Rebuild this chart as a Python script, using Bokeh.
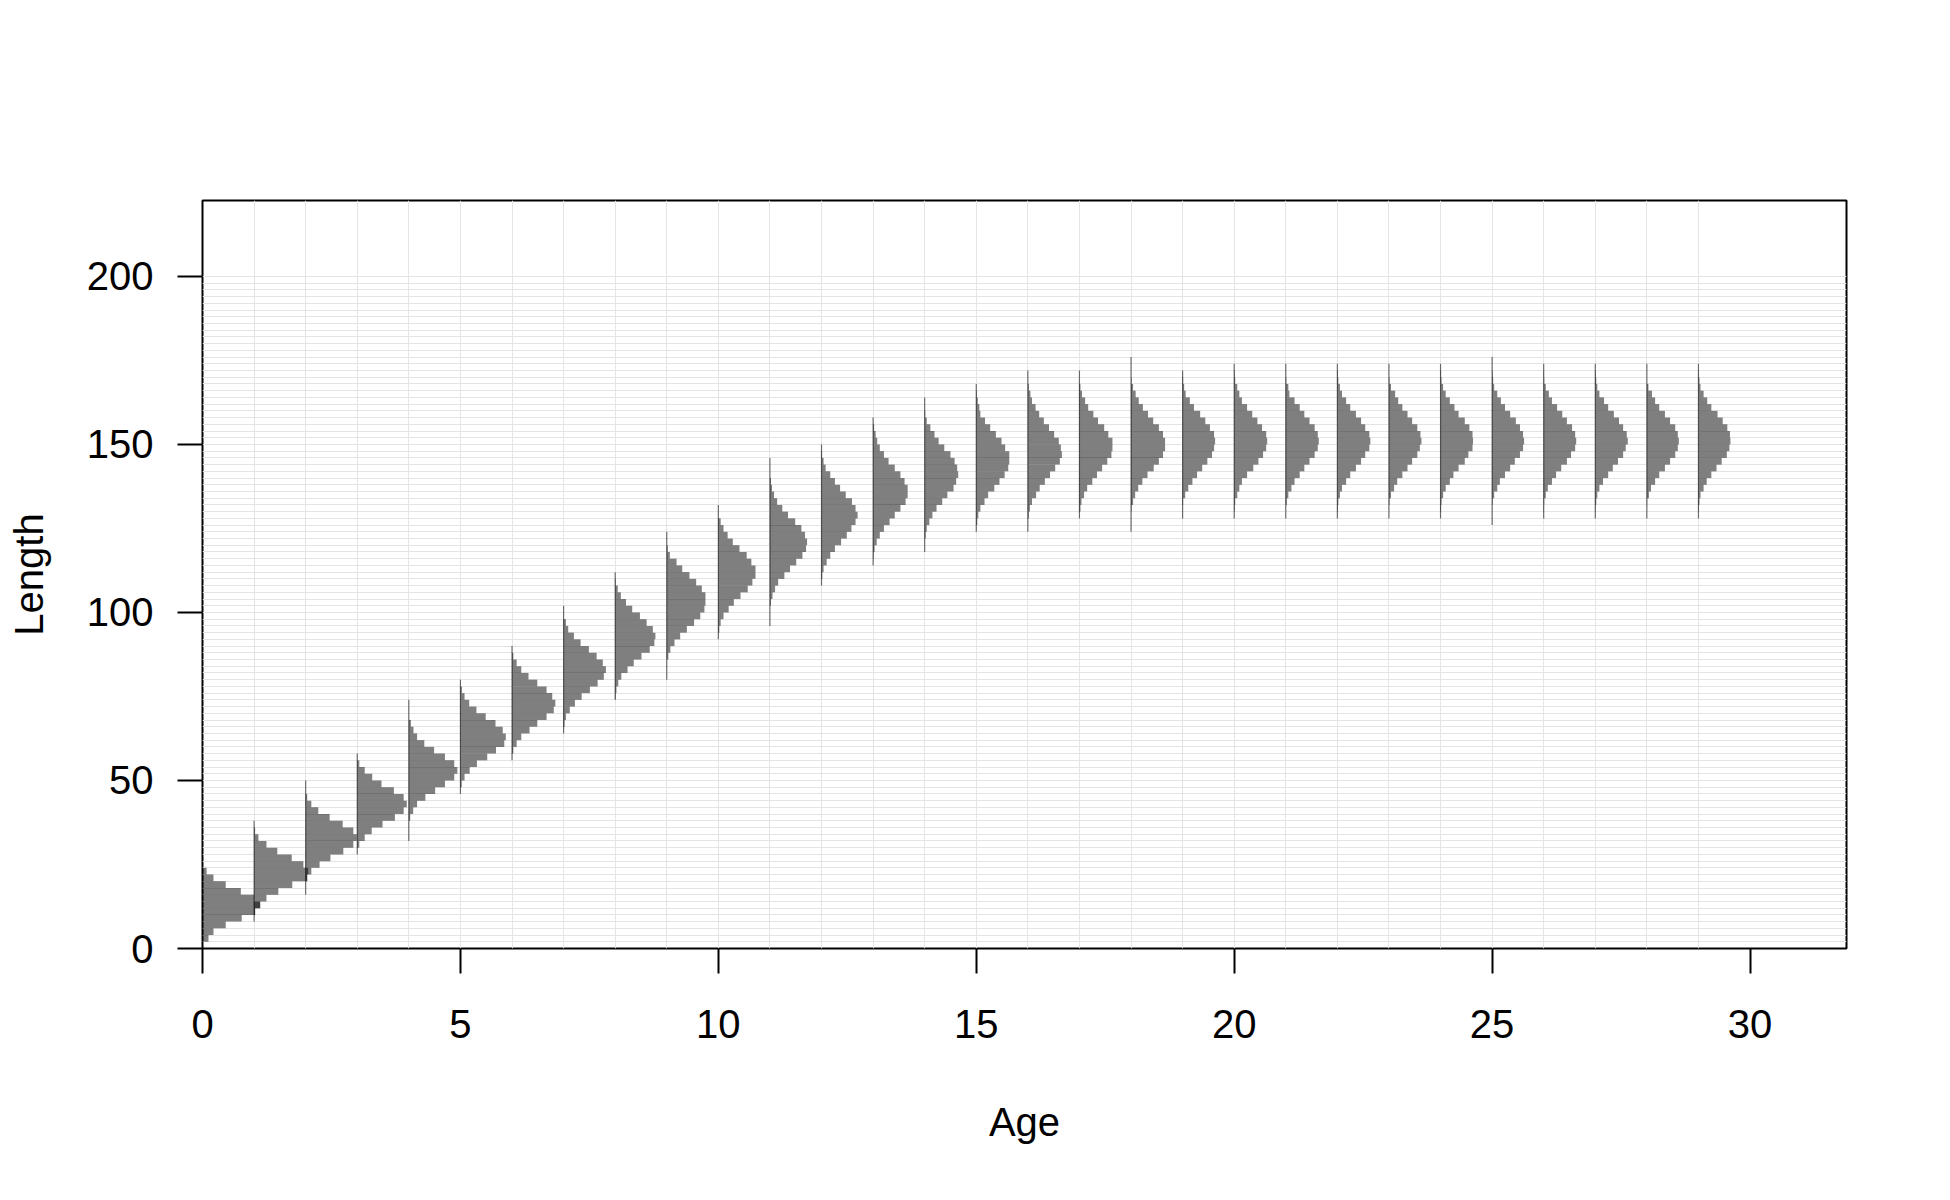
from bokeh.plotting import figure
from bokeh.models import ColumnDataSource, Range1d, FixedTicker
from bokeh.embed import file_html
from bokeh.resources import INLINE

# ---------------- data ----------------
bin_width = 2
ages = list(range(30))
# lower length bound of the lowest drawn bin for each age
start_length = [2, 8, 16, 28, 32, 46, 56, 64, 74, 80,
                92, 96, 108, 114, 118, 124, 124, 128, 124, 128,
                128, 128, 128, 128, 128, 126, 128, 128, 128, 128]

# bar widths (scaled frequency, in age units), from the lowest bin upward
age_0 = [0.116, 0.213, 0.45, 0.76, 1.02, 1.12, 1.0, 0.743, 0.45, 0.213, 0.08]
age_1 = [0, 0.02, 0.116, 0.24, 0.47, 0.74, 1.03, 1.05, 0.956, 0.73, 0.45, 0.24, 0.084, 0.02, 0]
age_2 = [0, 0, 0.03, 0.11, 0.27, 0.48, 0.73, 0.924, 0.99, 0.924, 0.717, 0.465, 0.245, 0.11, 0.03, 0, 0]
age_3 = [0, 0.04, 0.145, 0.28, 0.49, 0.73, 0.9, 0.96, 0.9, 0.71, 0.47, 0.29, 0.145, 0.04, 0]
age_4 = [0, 0, 0, 0.026, 0.084, 0.16, 0.32, 0.51, 0.70, 0.88, 0.94, 0.88, 0.70, 0.49, 0.3, 0.16, 0.09, 0.04, 0, 0, 0]
age_5 = [0, 0.026, 0.08, 0.18, 0.32, 0.52, 0.69, 0.85, 0.88, 0.82, 0.68, 0.49, 0.31, 0.17, 0.08, 0.03, 0]
age_6 = [0, 0.026, 0.09, 0.18, 0.34, 0.49, 0.67, 0.81, 0.84, 0.78, 0.67, 0.49, 0.32, 0.18, 0.09, 0.026, 0]
age_7 = [0, 0.02, 0.045, 0.12, 0.22, 0.35, 0.51, 0.66, 0.78, 0.82, 0.76, 0.64, 0.49, 0.33, 0.2, 0.09, 0.045, 0, 0]
age_8 = [0.01, 0.025, 0.06, 0.12, 0.24, 0.36, 0.51, 0.67, 0.76, 0.78, 0.73, 0.61, 0.48, 0.33, 0.21, 0.11, 0.05, 0.01, 0]
age_9 = [0, 0, 0, 0.03, 0.07, 0.15, 0.26, 0.39, 0.53, 0.65, 0.73, 0.75, 0.75, 0.68, 0.57, 0.44, 0.3, 0.19, 0.06, 0.02, 0, 0]
age_10 = [0, 0.02, 0.045, 0.1, 0.2, 0.3, 0.43, 0.57, 0.66, 0.72, 0.72, 0.64, 0.55, 0.41, 0.28, 0.18, 0.1, 0.045, 0, 0]
age_11 = [0, 0, 0, 0.02, 0.05, 0.1, 0.16, 0.28, 0.39, 0.51, 0.63, 0.7, 0.72, 0.68, 0.61, 0.49, 0.35, 0.24, 0.14, 0.08, 0.04, 0.02, 0, 0, 0]
age_12 = [0, 0.015, 0.04, 0.1, 0.17, 0.26, 0.38, 0.49, 0.58, 0.66, 0.7, 0.66, 0.59, 0.47, 0.36, 0.26, 0.17, 0.08, 0.04, 0.01, 0]
age_13 = [0, 0.01, 0.03, 0.07, 0.13, 0.21, 0.32, 0.42, 0.53, 0.63, 0.67, 0.67, 0.61, 0.53, 0.42, 0.3, 0.21, 0.13, 0.08, 0.05, 0.02, 0]
age_14 = [0, 0, 0.02, 0.04, 0.09, 0.15, 0.23, 0.34, 0.44, 0.56, 0.61, 0.65, 0.63, 0.58, 0.5, 0.38, 0.27, 0.19, 0.11, 0.04, 0.01, 0, 0]
age_15 = [0, 0.02, 0.04, 0.08, 0.16, 0.23, 0.35, 0.45, 0.55, 0.62, 0.64, 0.64, 0.56, 0.49, 0.38, 0.27, 0.17, 0.08, 0.06, 0.03, 0.01, 0]
age_16 = [0, 0, 0.02, 0.04, 0.08, 0.16, 0.23, 0.33, 0.43, 0.53, 0.62, 0.66, 0.64, 0.6, 0.51, 0.41, 0.31, 0.22, 0.15, 0.08, 0.05, 0.02, 0, 0]
age_17 = [0, 0.02, 0.04, 0.09, 0.15, 0.25, 0.34, 0.44, 0.54, 0.62, 0.64, 0.64, 0.56, 0.48, 0.36, 0.27, 0.17, 0.11, 0.05, 0.02, 0, 0]
age_18 = [0, 0, 0, 0.01, 0.04, 0.08, 0.14, 0.22, 0.32, 0.44, 0.54, 0.62, 0.66, 0.66, 0.62, 0.54, 0.43, 0.33, 0.23, 0.15, 0.09, 0.04, 0.01, 0, 0, 0]
age_19 = [0, 0, 0.01, 0.05, 0.11, 0.19, 0.28, 0.38, 0.48, 0.57, 0.61, 0.63, 0.61, 0.53, 0.44, 0.34, 0.22, 0.14, 0.06, 0.03, 0.01, 0]
age_20 = [0, 0.01, 0.02, 0.06, 0.1, 0.15, 0.25, 0.37, 0.47, 0.56, 0.62, 0.64, 0.62, 0.54, 0.45, 0.35, 0.25, 0.15, 0.1, 0.06, 0.02, 0.01, 0]
age_21 = [0, 0, 0.02, 0.05, 0.11, 0.17, 0.27, 0.36, 0.46, 0.56, 0.62, 0.64, 0.62, 0.56, 0.46, 0.36, 0.27, 0.17, 0.07, 0.05, 0.01, 0, 0]
age_22 = [0, 0.01, 0.02, 0.05, 0.09, 0.17, 0.25, 0.36, 0.46, 0.54, 0.62, 0.64, 0.62, 0.54, 0.46, 0.36, 0.25, 0.17, 0.09, 0.05, 0.02, 0.01, 0]
age_23 = [0, 0, 0.01, 0.04, 0.1, 0.16, 0.26, 0.36, 0.45, 0.55, 0.6, 0.63, 0.61, 0.55, 0.45, 0.36, 0.26, 0.18, 0.12, 0.04, 0.01, 0, 0]
age_24 = [0, 0.01, 0.02, 0.05, 0.1, 0.18, 0.25, 0.35, 0.47, 0.54, 0.62, 0.63, 0.62, 0.56, 0.47, 0.35, 0.27, 0.18, 0.1, 0.05, 0.02, 0.01, 0]
age_25 = [0, 0, 0, 0.01, 0.04, 0.1, 0.15, 0.25, 0.35, 0.44, 0.54, 0.6, 0.62, 0.6, 0.54, 0.46, 0.35, 0.25, 0.17, 0.1, 0.04, 0.02, 0.01, 0, 0]
age_26 = [0, 0.005, 0.01, 0.04, 0.08, 0.16, 0.24, 0.34, 0.45, 0.53, 0.61, 0.63, 0.61, 0.55, 0.45, 0.36, 0.26, 0.16, 0.1, 0.04, 0.01, 0.005, 0]
age_27 = [0, 0.005, 0.02, 0.04, 0.08, 0.15, 0.25, 0.34, 0.44, 0.54, 0.59, 0.63, 0.61, 0.54, 0.46, 0.36, 0.25, 0.17, 0.08, 0.04, 0.02, 0.01, 0]
age_28 = [0, 0, 0.005, 0.04, 0.08, 0.16, 0.24, 0.35, 0.45, 0.55, 0.6, 0.62, 0.6, 0.55, 0.45, 0.35, 0.24, 0.16, 0.1, 0.03, 0, 0, 0]
age_29 = [0, 0.005, 0.02, 0.04, 0.1, 0.16, 0.25, 0.35, 0.45, 0.55, 0.6, 0.62, 0.61, 0.56, 0.47, 0.37, 0.25, 0.17, 0.1, 0.04, 0.02, 0.005, 0]

bar_widths = [age_0, age_1, age_2, age_3, age_4, age_5, age_6, age_7, age_8, age_9,
              age_10, age_11, age_12, age_13, age_14, age_15, age_16, age_17, age_18, age_19,
              age_20, age_21, age_22, age_23, age_24, age_25, age_26, age_27, age_28, age_29]

x_ticks = [0, 5, 10, 15, 20, 25, 30]
y_ticks = [0, 50, 100, 150, 200]
x_max = 31.87
y_max = 222.6
grid_length_max = 200

# ---------------- build sources ----------------
left, right, bottom, top = [], [], [], []
seg_x, seg_y0, seg_y1 = [], [], []
for a, s, ws in zip(ages, start_length, bar_widths):
    for i, w in enumerate(ws):
        if w > 0:
            left.append(a)
            right.append(a + w)
            bottom.append(s + i * bin_width)
            top.append(s + (i + 1) * bin_width)
    seg_x.append(a)
    seg_y0.append(s)
    seg_y1.append(s + len(ws) * bin_width)

bars = ColumnDataSource(dict(left=left, right=right, bottom=bottom, top=top))
segs = ColumnDataSource(dict(x=seg_x, y0=seg_y0, y1=seg_y1))

FONT = "Liberation Sans"

p = figure(width=1934, height=1184, output_backend="svg", toolbar_location=None,
           x_range=Range1d(0, x_max), y_range=Range1d(0, y_max),
           min_border_left=202, min_border_right=88, min_border_top=200, min_border_bottom=236)
p.title = None
p.background_fill_color = "white"
p.border_fill_color = "white"
p.outline_line_color = "black"
p.outline_line_width = 2

# grid: one vertical line per age, one horizontal line per length bin
p.xgrid.ticker = FixedTicker(ticks=ages)
p.ygrid.ticker = FixedTicker(ticks=list(range(0, grid_length_max + 1, bin_width)))
p.xgrid.grid_line_color = "#e4e4e4"
p.ygrid.grid_line_color = "#e4e4e4"
p.xgrid.grid_line_width = 1
p.ygrid.grid_line_width = 1

p.quad(left="left", right="right", bottom="bottom", top="top", source=bars,
       fill_color="black", fill_alpha=0.5, line_color=None)
p.segment(x0="x", y0="y0", x1="x", y1="y1", source=segs,
          line_color="black", line_alpha=0.55, line_width=1.2)

# axes
p.xaxis.ticker = FixedTicker(ticks=x_ticks)
p.yaxis.ticker = FixedTicker(ticks=y_ticks)
for ax in (p.xaxis, p.yaxis):
    ax.axis_line_color = None
    ax.major_tick_out = 25
    ax.major_tick_in = 0
    ax.minor_tick_line_color = None
    ax.major_tick_line_color = "black"
    ax.major_tick_line_width = 2
    ax.major_label_text_font = FONT
    ax.major_label_text_font_size = "40px"
    ax.major_label_text_color = "black"
    ax.axis_label_text_font = FONT
    ax.axis_label_text_font_size = "40px"
    ax.axis_label_text_font_style = "normal"
    ax.axis_label_text_color = "black"

p.xaxis.axis_label = "Age"
p.yaxis.axis_label = "Length"
p.xaxis.major_label_standoff = 36
p.yaxis.major_label_standoff = 24
p.xaxis.axis_label_standoff = 59
p.yaxis.axis_label_standoff = 33

open("out.html", "w").write(file_html(p, INLINE))
